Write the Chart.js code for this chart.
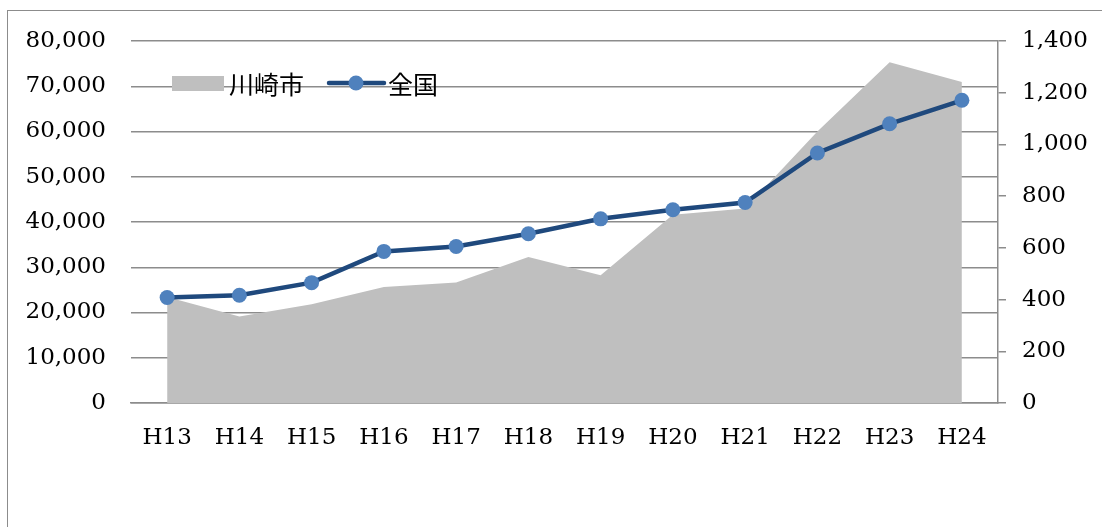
<!DOCTYPE html>
<html>
<head>
<meta charset="utf-8">
<script src="https://cdn.jsdelivr.net/npm/chart.js@4.4.0/dist/chart.umd.min.js"></script>
<style>
    html, body { margin: 0; padding: 0; background: #fff; overflow: hidden; }
    #frame {
        position: absolute; left: 7px; top: 10px;
        width: 1300px; height: 700px;
        border: 1.5px solid #8c8c8c;
    }
    #chart { position: absolute; left: 0; top: 0; }
</style>
</head>
<body>
<div id="frame"></div>
<canvas id="chart" width="1102" height="527"></canvas>
<script>
// categories and values
const categories = ['H13', 'H14', 'H15', 'H16', 'H17', 'H18', 'H19', 'H20', 'H21', 'H22', 'H23', 'H24'];
const kawasakiValues = [410, 335, 382, 449, 466, 565, 494, 728, 752, 1050, 1318, 1241];
const nationalValues = [23300, 23800, 26600, 33500, 34600, 37400, 40700, 42700, 44300, 55250, 61700, 66900];
const seriesNames = ['川崎市', '全国'];

const leftTicks = { min: 0, max: 80000, step: 10000 };
const rightTicks = { min: 0, max: 1400, step: 200 };

const AXIS_GREY = '#8c8c8c';
const AREA_GREY = '#bfbfbf';
const LINE_BLUE = '#1f497d';
const MARKER_BLUE = '#4f81bd';
const NUM_FONT = { family: "'DejaVu Serif', 'Noto Sans CJK JP', serif", size: 23 };

const fmt = v => Number(v).toLocaleString('en-US');

// Legend drawn inside the plot area, like the original
const insideLegend = {
    id: 'insideLegend',
    afterDatasetsDraw(chart) {
        const ctx = chart.ctx;
        const y = 83;
        ctx.save();
        // area swatch
        ctx.fillStyle = AREA_GREY;
        ctx.fillRect(172, 76, 52, 15);
        ctx.font = "25px 'Noto Sans CJK JP', sans-serif";
        ctx.fillStyle = '#000';
        ctx.textBaseline = 'middle';
        ctx.textAlign = 'left';
        ctx.fillText(seriesNames[0], 229, y + 1);
        // line swatch with marker
        ctx.strokeStyle = LINE_BLUE;
        ctx.lineWidth = 4.5;
        ctx.lineCap = 'round';
        ctx.beginPath();
        ctx.moveTo(329, y);
        ctx.lineTo(384, y);
        ctx.stroke();
        ctx.fillStyle = MARKER_BLUE;
        ctx.beginPath();
        ctx.arc(356, y, 7.5, 0, Math.PI * 2);
        ctx.fill();
        ctx.fillStyle = '#000';
        ctx.fillText(seriesNames[1], 388, y + 1);
        ctx.restore();
    }
};

const ctx = document.getElementById('chart').getContext('2d');
new Chart(ctx, {
    type: 'line',
    data: {
        labels: categories,
        datasets: [
            {
                label: seriesNames[0],
                data: kawasakiValues,
                yAxisID: 'y1',
                fill: 'origin',
                backgroundColor: AREA_GREY,
                borderWidth: 0,
                pointRadius: 0,
                tension: 0,
                order: 2
            },
            {
                label: seriesNames[1],
                data: nationalValues,
                yAxisID: 'y',
                fill: false,
                borderColor: LINE_BLUE,
                borderWidth: 4.5,
                pointRadius: 7.5,
                pointBackgroundColor: MARKER_BLUE,
                pointBorderColor: MARKER_BLUE,
                pointBorderWidth: 0,
                tension: 0,
                order: 1
            }
        ]
    },
    options: {
        responsive: false,
        animation: false,
        events: [],
        layout: { padding: { top: 41, left: 0, right: 0, bottom: 0 } },
        plugins: {
            legend: { display: false },
            tooltip: { enabled: false }
        },
        scales: {
            x: {
                offset: true,
                grid: { display: false, drawTicks: false },
                border: { display: true, color: AXIS_GREY, width: 1.5 },
                ticks: { color: '#000', font: NUM_FONT, padding: 21, maxRotation: 0 },
                afterFit(scale) { scale.height = 124; }
            },
            y: {
                position: 'left',
                min: leftTicks.min,
                max: leftTicks.max,
                grid: { color: AXIS_GREY, lineWidth: 1.5, drawTicks: false },
                border: { display: false },
                ticks: {
                    stepSize: leftTicks.step,
                    color: '#000',
                    font: NUM_FONT,
                    padding: 25,
                    callback: v => fmt(v)
                },
                afterFit(scale) { scale.width = 131; }
            },
            y1: {
                position: 'right',
                min: rightTicks.min,
                max: rightTicks.max,
                grid: { drawOnChartArea: false, drawTicks: true, tickLength: 8, color: AXIS_GREY, lineWidth: 1.5 },
                border: { display: true, color: AXIS_GREY, width: 1.5 },
                ticks: {
                    stepSize: rightTicks.step,
                    color: '#000',
                    font: NUM_FONT,
                    padding: 16,
                    callback: v => fmt(v)
                },
                afterFit(scale) { scale.width = 104; }
            }
        }
    },
    plugins: [insideLegend]
});
</script>
</body>
</html>
